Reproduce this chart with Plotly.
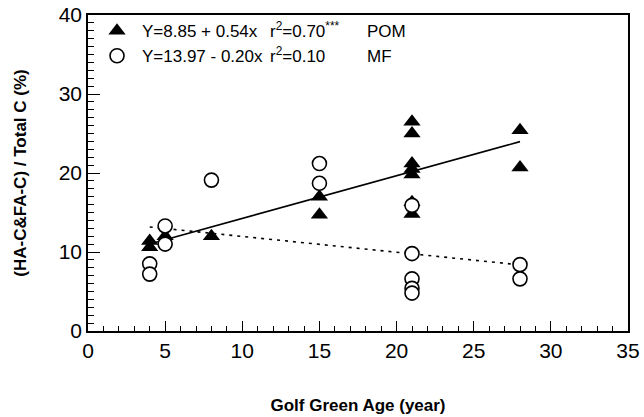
import plotly.graph_objects as go

# POM (triangles)
pom_x = [4, 4, 5, 8, 15, 15, 21, 21, 21, 21, 21, 21, 21, 28, 28]
pom_y = [11.4, 10.6, 12.0, 12.0, 17.0, 14.7, 26.5, 25.0, 21.2, 20.5, 19.8, 16.3, 14.8, 25.4, 20.7]
# MF (open circles)
mf_x = [4, 4, 5, 5, 8, 15, 15, 21, 21, 21, 21, 21, 28, 28]
mf_y = [8.5, 7.2, 13.3, 11.0, 19.1, 21.2, 18.7, 15.9, 9.8, 6.6, 5.4, 4.8, 8.4, 6.6]

# regression fits
pom_a, pom_b = 8.85, 0.54
mf_a, mf_b = 13.97, -0.20
fit_x = [4, 28]

pom_label = "Y=8.85 + 0.54x"
mf_label = "Y=13.97 - 0.20x"
pom_r2 = "r<sup>2</sup>=0.70<sup>***</sup>"
mf_r2 = "r<sup>2</sup>=0.10"
pom_name = "POM"
mf_name = "MF"

x_ticks = [0, 5, 10, 15, 20, 25, 30, 35]
y_ticks = [0, 10, 20, 30, 40]

FONT = "Liberation Sans, Arial"

fig = go.Figure()
fig.add_trace(go.Scatter(x=fit_x, y=[pom_a + pom_b * v for v in fit_x], mode="lines",
                         line=dict(color="black", width=1.6), showlegend=False, hoverinfo="skip"))
fig.add_trace(go.Scatter(x=fit_x, y=[mf_a + mf_b * v for v in fit_x], mode="lines",
                         line=dict(color="black", width=1.6, dash="3px,5px"), showlegend=False, hoverinfo="skip"))
fig.add_trace(go.Scatter(x=pom_x, y=pom_y, mode="markers", name=" ",
                         marker=dict(symbol="triangle-up", size=15, color="black",
                                     line=dict(color="black", width=0))))
fig.add_trace(go.Scatter(x=mf_x, y=mf_y, mode="markers", name="  ",
                         marker=dict(symbol="circle", size=14, color="white",
                                     line=dict(color="black", width=1.6))))

axis_common = dict(showline=True, linecolor="black", linewidth=1.5, mirror=True, automargin=False,
                   ticks="inside", tickcolor="black", tickwidth=1.2, showgrid=False, zeroline=False,
                   ticklabeloverflow="allow",
                   tickfont=dict(family=FONT, size=21, color="black"))

fig.update_xaxes(range=[0, 35], tickvals=x_ticks, ticklen=10,
                 minor=dict(ticks="inside", dtick=1, ticklen=5, tickcolor="black", tickwidth=1),
                 title=dict(text="<b>Golf Green Age (year)</b>", standoff=38,
                            font=dict(family=FONT, size=17, color="black")),
                 **axis_common)
fig.update_yaxes(range=[0, 40], tickvals=y_ticks, ticklen=12,
                 minor=dict(ticks="inside", dtick=1, ticklen=6, tickcolor="black", tickwidth=1),
                 title=dict(text="<b>(HA-C&FA-C) / Total C (%)</b>", standoff=28,
                            font=dict(family=FONT, size=17, color="black")),
                 **axis_common)

for txt, xp, yp in [(pom_label, 0.096, 0.949), (pom_r2, 0.333, 0.952), (pom_name, 0.513, 0.949),
                    (mf_label, 0.096, 0.870), (mf_r2, 0.333, 0.873), (mf_name, 0.513, 0.870)]:
    fig.add_annotation(text=txt, x=xp, y=yp, xref="paper", yref="paper",
                       xanchor="left", yanchor="middle", showarrow=False,
                       font=dict(family=FONT, size=17, color="black"))

fig.update_layout(
    width=644, height=417,
    margin=dict(l=88, r=16, t=15, b=86),
    paper_bgcolor="white", plot_bgcolor="white",
    showlegend=True,
    legend=dict(x=0.0167, y=1.006, xanchor="left", yanchor="top", bgcolor="rgba(0,0,0,0)",
                font=dict(family=FONT, size=17, color="black"),
                tracegroupgap=0, itemwidth=30),
)

fig.write_html("out.html", config={"displayModeBar": False},
               post_script="document.body.style.margin='0px';")
